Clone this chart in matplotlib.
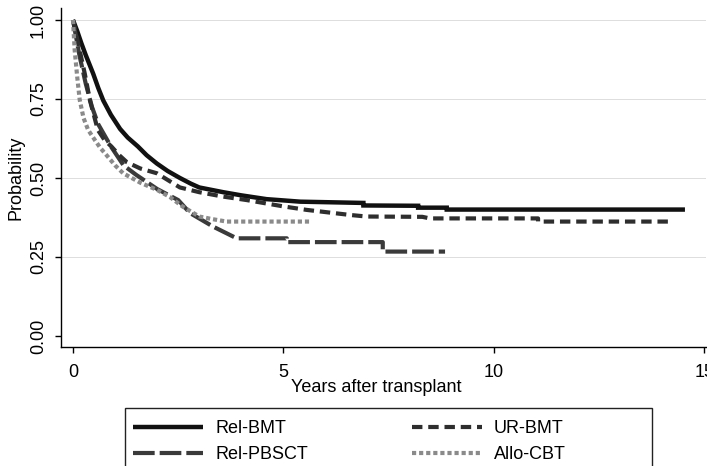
import matplotlib
matplotlib.use('Agg')
from matplotlib import pyplot as plt
from matplotlib.patches import Rectangle

plt.rcParams['font.family'] = ['Liberation Sans', 'DejaVu Sans']

# survival estimates (repeated t = a visible step)
rel_bmt_t = [0, 0.1, 0.2, 0.3, 0.48, 0.6, 0.72, 0.9, 1.12, 1.3, 1.54, 1.75, 1.99, 2.25, 2.54, 2.8, 3.0, 3.57, 4.0,
             4.6, 5.4, 6.9, 6.9, 8.2, 8.2, 8.88, 8.88, 14.54]
rel_bmt_p = [1.0, 0.965, 0.926, 0.89, 0.83, 0.785, 0.745, 0.70, 0.655, 0.628, 0.60, 0.572, 0.546, 0.522, 0.50, 0.482,
             0.47, 0.455, 0.445, 0.433, 0.425, 0.421, 0.413, 0.412, 0.406, 0.406, 0.400, 0.400]

ur_bmt_t = [0, 0.1, 0.28, 0.40, 0.59, 0.75, 0.91, 1.1, 1.28, 1.6, 1.99, 2.54, 3.0, 3.57, 4.13, 5.0, 5.55, 6.58,
            6.97, 8.3, 8.48, 11.05, 11.05, 14.18]
ur_bmt_p = [1.0, 0.94, 0.83, 0.747, 0.652, 0.62, 0.60, 0.572, 0.55, 0.53, 0.515, 0.47, 0.455, 0.441, 0.43, 0.41,
            0.399, 0.383, 0.378, 0.377, 0.372, 0.372, 0.362, 0.362]

rel_pbsct_t = [0, 0.15, 0.3, 0.45, 0.6, 0.9, 1.2, 1.5, 2.0, 2.5, 2.78, 3.33, 3.89, 5.08, 5.08, 7.36, 7.36, 8.84]
rel_pbsct_p = [1.0, 0.89, 0.80, 0.725, 0.67, 0.60, 0.54, 0.51, 0.465, 0.43, 0.389, 0.346, 0.309, 0.309, 0.297,
               0.297, 0.267, 0.267]

allo_cbt_t = [0, 0.04, 0.1, 0.16, 0.25, 0.36, 0.52, 0.65, 0.83, 1.0, 1.19, 1.6, 2.0, 2.3, 2.6, 3.0, 3.3, 3.65, 5.67]
allo_cbt_p = [1.0, 0.905, 0.82, 0.747, 0.69, 0.652, 0.62, 0.595, 0.567, 0.54, 0.515, 0.485, 0.462, 0.44, 0.41,
              0.378, 0.37, 0.362, 0.362]

y_ticks = [0, 0.25, 0.5, 0.75, 1.0]
y_tick_labels = ['0.00', '0.25', '0.50', '0.75', '1.00']
x_ticks = [0, 5, 10, 15]

W, H = 707, 466
fig = plt.figure(figsize=(W / 100, H / 100), dpi=100)
ax = fig.add_axes([61 / W, 1 - 347 / H, 645 / W, 339 / H])

ax.plot(rel_bmt_t, rel_bmt_p, color='#111111', lw=3.2,
        solid_capstyle='butt', solid_joinstyle='miter', label='Rel-BMT')
ax.plot(rel_pbsct_t, rel_pbsct_p, color='#3a3a3a', lw=3.0,
        dashes=(5.2, 1.2), label='Rel-PBSCT')
ax.plot(ur_bmt_t, ur_bmt_p, color='#2e2e2e', lw=3.0,
        dashes=(2.5, 1.4), label='UR-BMT')
ax.plot(allo_cbt_t, allo_cbt_p, color='#8a8a8a', lw=3.0,
        dashes=(1.0, 0.7), label='Allo-CBT')

ax.set_xlim(-0.285, 15.04)
ax.set_ylim(-0.035, 1.038)
ax.set_yticks(y_ticks)
ax.set_yticklabels(y_tick_labels, rotation=90, va='center')
ax.set_xticks(x_ticks)
for y in y_ticks[1:]:
    ax.axhline(y, color='#dddddd', lw=0.7, zorder=0)

for s in ['top', 'right']:
    ax.spines[s].set_visible(False)
for s in ['left', 'bottom']:
    ax.spines[s].set_linewidth(1.0)
ax.tick_params(direction='out', length=4, width=1, labelsize=13)
ax.tick_params(axis='x', pad=8)
ax.tick_params(axis='y', pad=6)

ax.set_xlabel('Years after transplant', fontsize=13, labelpad=0)
ax.xaxis.set_label_coords(0.488, -0.095)
ax.set_ylabel('Probability', fontsize=13, labelpad=4)

# legend frame runs past the bottom edge of the figure
fig.add_artist(Rectangle((125 / W, -0.05), 527 / W, 0.05 + 1 - 408 / H,
                         transform=fig.transFigure, fill=False, lw=1.0, ec='#222222'))
fig.legend(loc='upper left', bbox_to_anchor=(133 / W, 1 - 420 / H), ncol=2,
           frameon=False, fontsize=13, borderpad=0, borderaxespad=0,
           handlelength=3.9, handletextpad=0.65, columnspacing=5.75, labelspacing=0.5)

fig.savefig('out.png', dpi=100)
